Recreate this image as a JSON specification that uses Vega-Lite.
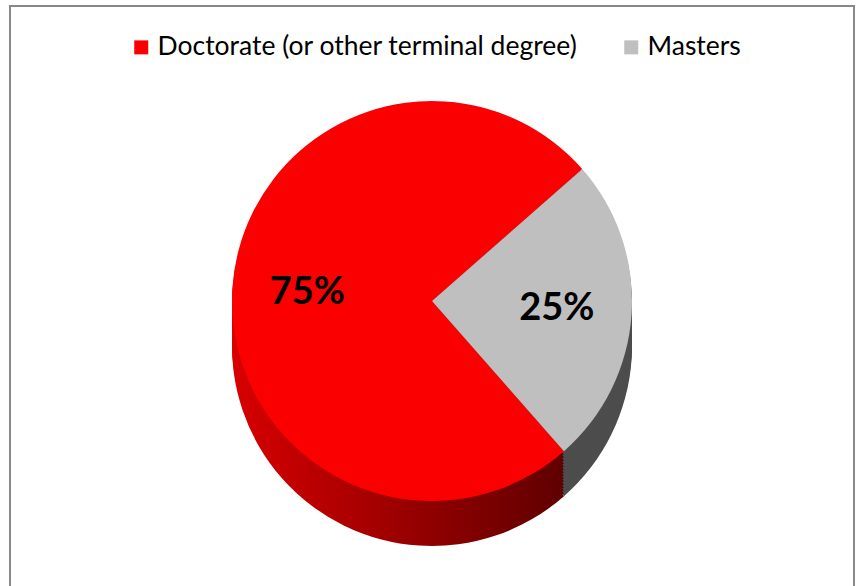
{
  "$schema": "https://vega.github.io/schema/vega-lite/v6.json",
  "width": 844,
  "height": 600,
  "padding": {"left": 9, "top": 5, "right": 5, "bottom": 0},
  "background": "white",
  "config": {"view": {"stroke": null}},
  "data": {"values": [
    {"degree": "Doctorate (or other terminal degree)", "pct": 0.75},
    {"degree": "Masters", "pct": 0.25}
  ]},
  "layer": [
    {"mark": {"type": "rect", "filled": false, "stroke": "#888888", "strokeWidth": 2}, "encoding": {}},
    {
      "encoding": {
        "theta": {"field": "pct", "type": "quantitative", "stack": true, "scale": {"range": [0.85, 7.1332]}},
        "order": {"field": "pct", "type": "quantitative", "sort": "ascending"}
      },
      "layer": [
        {"mark": {"type": "arc", "radius": 200, "yOffset": 40}, "encoding": {"color": {"condition": {"test": "datum.degree === 'Masters'", "value": "#4d4d4d"}, "value": {"gradient": "linear", "x1": 0, "y1": 0, "x2": 1, "y2": 0, "stops": [{"offset": 0, "color": "#d80000"}, {"offset": 1, "color": "#580000"}]}}}},
        {"mark": {"type": "arc", "radius": 200, "yOffset": 37}, "encoding": {"color": {"condition": {"test": "datum.degree === 'Masters'", "value": "#4d4d4d"}, "value": {"gradient": "linear", "x1": 0, "y1": 0, "x2": 1, "y2": 0, "stops": [{"offset": 0, "color": "#d80000"}, {"offset": 1, "color": "#580000"}]}}}},
        {"mark": {"type": "arc", "radius": 200, "yOffset": 34}, "encoding": {"color": {"condition": {"test": "datum.degree === 'Masters'", "value": "#4d4d4d"}, "value": {"gradient": "linear", "x1": 0, "y1": 0, "x2": 1, "y2": 0, "stops": [{"offset": 0, "color": "#d80000"}, {"offset": 1, "color": "#580000"}]}}}},
        {"mark": {"type": "arc", "radius": 200, "yOffset": 31}, "encoding": {"color": {"condition": {"test": "datum.degree === 'Masters'", "value": "#4d4d4d"}, "value": {"gradient": "linear", "x1": 0, "y1": 0, "x2": 1, "y2": 0, "stops": [{"offset": 0, "color": "#d80000"}, {"offset": 1, "color": "#580000"}]}}}},
        {"mark": {"type": "arc", "radius": 200, "yOffset": 28}, "encoding": {"color": {"condition": {"test": "datum.degree === 'Masters'", "value": "#4d4d4d"}, "value": {"gradient": "linear", "x1": 0, "y1": 0, "x2": 1, "y2": 0, "stops": [{"offset": 0, "color": "#d80000"}, {"offset": 1, "color": "#580000"}]}}}},
        {"mark": {"type": "arc", "radius": 200, "yOffset": 25}, "encoding": {"color": {"condition": {"test": "datum.degree === 'Masters'", "value": "#4d4d4d"}, "value": {"gradient": "linear", "x1": 0, "y1": 0, "x2": 1, "y2": 0, "stops": [{"offset": 0, "color": "#d80000"}, {"offset": 1, "color": "#580000"}]}}}},
        {"mark": {"type": "arc", "radius": 200, "yOffset": 22}, "encoding": {"color": {"condition": {"test": "datum.degree === 'Masters'", "value": "#4d4d4d"}, "value": {"gradient": "linear", "x1": 0, "y1": 0, "x2": 1, "y2": 0, "stops": [{"offset": 0, "color": "#d80000"}, {"offset": 1, "color": "#580000"}]}}}},
        {"mark": {"type": "arc", "radius": 200, "yOffset": 19}, "encoding": {"color": {"condition": {"test": "datum.degree === 'Masters'", "value": "#4d4d4d"}, "value": {"gradient": "linear", "x1": 0, "y1": 0, "x2": 1, "y2": 0, "stops": [{"offset": 0, "color": "#d80000"}, {"offset": 1, "color": "#580000"}]}}}},
        {"mark": {"type": "arc", "radius": 200, "yOffset": 16}, "encoding": {"color": {"condition": {"test": "datum.degree === 'Masters'", "value": "#4d4d4d"}, "value": {"gradient": "linear", "x1": 0, "y1": 0, "x2": 1, "y2": 0, "stops": [{"offset": 0, "color": "#d80000"}, {"offset": 1, "color": "#580000"}]}}}},
        {"mark": {"type": "arc", "radius": 200, "yOffset": 13}, "encoding": {"color": {"condition": {"test": "datum.degree === 'Masters'", "value": "#4d4d4d"}, "value": {"gradient": "linear", "x1": 0, "y1": 0, "x2": 1, "y2": 0, "stops": [{"offset": 0, "color": "#d80000"}, {"offset": 1, "color": "#580000"}]}}}},
        {"mark": {"type": "arc", "radius": 200, "yOffset": 10}, "encoding": {"color": {"condition": {"test": "datum.degree === 'Masters'", "value": "#4d4d4d"}, "value": {"gradient": "linear", "x1": 0, "y1": 0, "x2": 1, "y2": 0, "stops": [{"offset": 0, "color": "#d80000"}, {"offset": 1, "color": "#580000"}]}}}},
        {"mark": {"type": "arc", "radius": 200, "yOffset": 7}, "encoding": {"color": {"condition": {"test": "datum.degree === 'Masters'", "value": "#4d4d4d"}, "value": {"gradient": "linear", "x1": 0, "y1": 0, "x2": 1, "y2": 0, "stops": [{"offset": 0, "color": "#d80000"}, {"offset": 1, "color": "#580000"}]}}}},
        {"mark": {"type": "arc", "radius": 200, "yOffset": 4}, "encoding": {"color": {"condition": {"test": "datum.degree === 'Masters'", "value": "#4d4d4d"}, "value": {"gradient": "linear", "x1": 0, "y1": 0, "x2": 1, "y2": 0, "stops": [{"offset": 0, "color": "#d80000"}, {"offset": 1, "color": "#580000"}]}}}},
        {"mark": {"type": "arc", "radius": 200, "yOffset": 1}, "encoding": {"color": {"condition": {"test": "datum.degree === 'Masters'", "value": "#4d4d4d"}, "value": {"gradient": "linear", "x1": 0, "y1": 0, "x2": 1, "y2": 0, "stops": [{"offset": 0, "color": "#d80000"}, {"offset": 1, "color": "#580000"}]}}}},
        {"mark": {"type": "arc", "radius": 200, "yOffset": -2}, "encoding": {"color": {"condition": {"test": "datum.degree === 'Masters'", "value": "#4d4d4d"}, "value": {"gradient": "linear", "x1": 0, "y1": 0, "x2": 1, "y2": 0, "stops": [{"offset": 0, "color": "#d80000"}, {"offset": 1, "color": "#580000"}]}}}},
        {"mark": {"type": "arc", "radius": 200, "yOffset": -5},
         "encoding": {"color": {"field": "degree", "type": "nominal",
           "scale": {"domain": ["Doctorate (or other terminal degree)", "Masters"], "range": ["#fb0000", "#bfbfbf"]},
           "legend": {"title": null, "orient": "none", "direction": "horizontal", "legendX": 118, "legendY": 28,
             "padding": 0, "symbolType": "square", "symbolSize": 196, "symbolStrokeWidth": 0, "symbolOpacity": 1,
             "labelFont": "Lato", "labelFontSize": 26.5, "labelColor": "#000000", "labelOffset": 3, "columnPadding": 40,
             "labelLimit": 700}}}},
        {"mark": {"type": "text", "radius": 125, "yOffset": -5, "font": "Lato", "fontSize": 38, "fontWeight": "bold", "color": "#000000"},
         "encoding": {"text": {"field": "pct", "type": "quantitative", "format": ".0%"}}}
      ]
    }
  ]
}
